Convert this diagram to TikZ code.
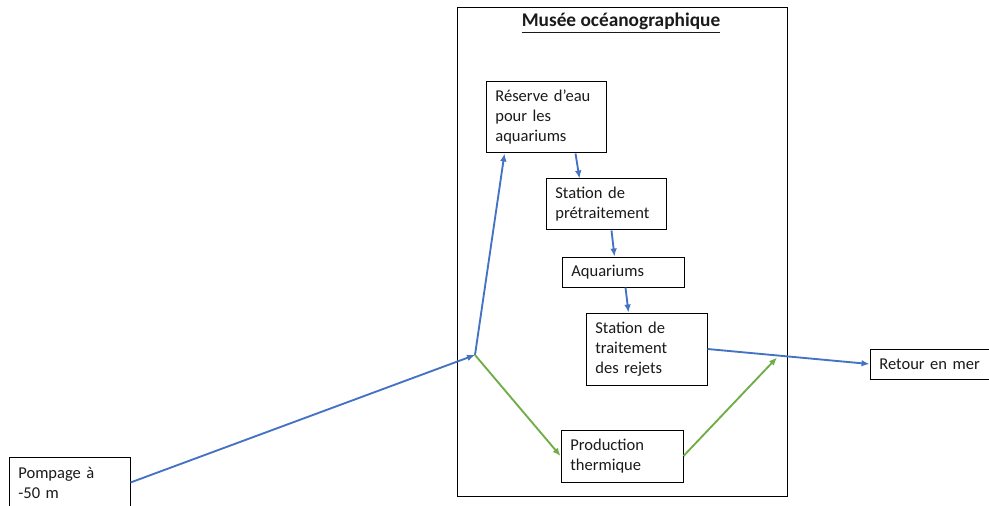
\documentclass[tikz,border=0pt]{standalone}
\usepackage{fontspec}
\setmainfont{Carlito}
\usetikzlibrary{calc,arrows.meta}
\definecolor{flowblue}{HTML}{4472C4}
\definecolor{flowgreen}{HTML}{70AD47}
\definecolor{txt}{HTML}{1A1A1A}
\tikzset{
  box/.style={draw=black, line width=0.75pt, fill=white, inner xsep=7pt, inner ysep=2pt,
    align=left, text=txt, font=\fontsize{12.4}{15}\selectfont},
  blueflow/.style={draw=flowblue, line width=1.4pt, -{Latex[length=6pt,width=5pt]}},
  greenflow/.style={draw=flowgreen, line width=1.4pt, -{Latex[length=6pt,width=5pt]}},
}
\begin{document}
\begin{tikzpicture}[x=0.75pt,y=-0.75pt]
\useasboundingbox (0,0) rectangle (989,506);
% museum frame
\node[draw=black, line width=0.75pt, minimum width=330*0.75pt, minimum height=488*0.75pt, inner sep=0pt] (musee) at (622,252) {};
\node[text=txt, font=\fontsize{14.5}{16}\selectfont\bfseries] (titre) at (621,23) {\underline{Musée océanographique}};
% boxes
\node[box, text width=76pt, minimum height=53.25pt] (reserve) at (546,117.5) {Réserve d’eau\\pour les\\aquariums};
\node[box, text width=76pt, minimum height=38.25pt] (pret) at (606,204.5) {Station de\\prétraitement};
\node[box, text width=77.5pt, minimum height=22.5pt] (aqua) at (623,272) {Aquariums};
\node[box, text width=76.75pt, minimum height=54pt] (trait) at (646.5,349) {Station de\\traitement\\des rejets};
\node[box, text width=77.5pt, minimum height=39pt] (prod) at (622,456) {Production\\thermique};
\node[box, text width=76.75pt, minimum height=38.25pt] (pomp) at (69.5,482.5) {Pompage à\\-50 m};
\node[box, text width=76pt, minimum height=22.5pt] (retour) at (930,364) {Retour en mer};
% junctions
\coordinate (J) at (475,355);
\coordinate (K) at (777,357.5);
% flows
\draw[blueflow] (pomp.east) -- (J);
\draw[blueflow] (J) -- ($(reserve.south west)+(19,0)$);
\draw[blueflow] ($(reserve.south west)+(90,0)$) -- ($(pret.north west)+(34,0)$);
\draw[blueflow] ($(pret.south west)+(66,0)$) -- ($(aqua.north west)+(53,0)$);
\draw[blueflow] ($(aqua.south west)+(64,0)$) -- ($(trait.north west)+(43,0)$);
\draw[blueflow] (trait.east) -- (retour.west);
\draw[greenflow] (J) -- (prod.west);
\draw[greenflow] (prod.east) -- (K);
\end{tikzpicture}
\end{document}
